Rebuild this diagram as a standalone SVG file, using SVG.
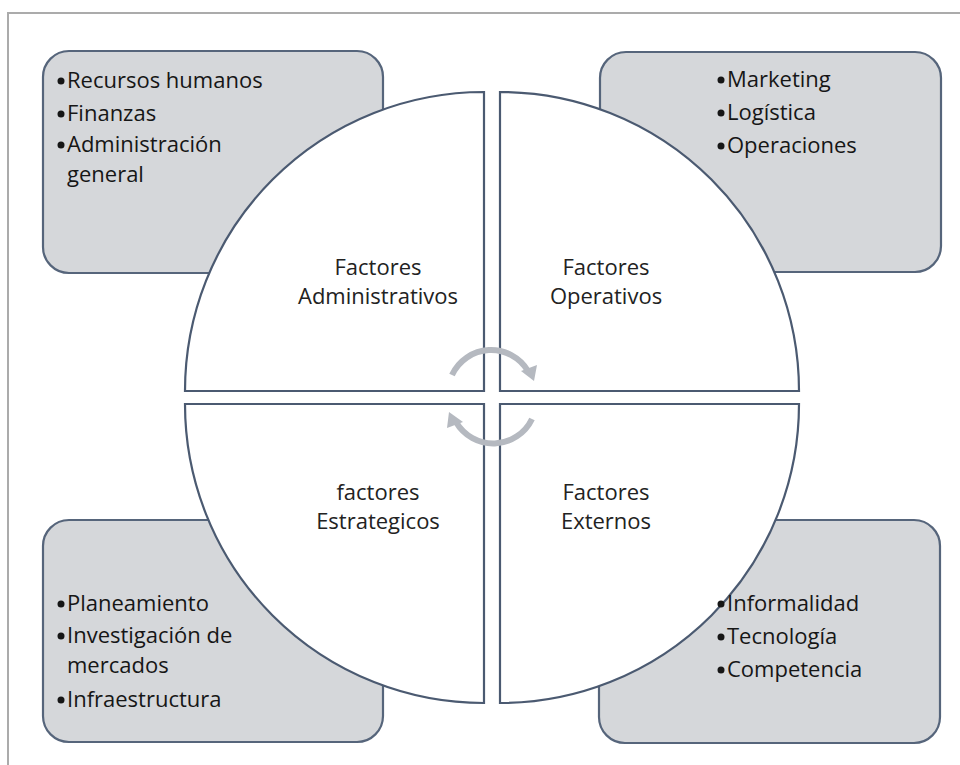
<svg xmlns="http://www.w3.org/2000/svg" width="960" height="765" viewBox="0 0 960 765">
<defs>
<style>
.frame{stroke:#ababab;stroke-width:2;fill:none}
.box{fill:#d5d7da;stroke:#56657b;stroke-width:2.2}
.quad{fill:#ffffff;stroke:#4b5a71;stroke-width:2.2}
.lbl{font-family:"Open Sans","Liberation Sans",sans-serif;font-size:22px;fill:#222222;text-anchor:middle}
.item{font-family:"Open Sans","Liberation Sans",sans-serif;font-size:22px;fill:#161616}
.dot{fill:#161616}
.arc{fill:none;stroke:#b5b9c0;stroke-width:6}
.head{fill:#b5b9c0}
</style>
</defs>
<rect width="960" height="765" fill="#ffffff"/>
<path class="frame" d="M8 765 L8 13 L960 13"/>

<g id="box-admin"><rect class="box" x="43" y="51" width="340" height="222" rx="26"/></g>
<g id="box-oper"><rect class="box" x="600" y="52" width="341" height="220" rx="26"/></g>
<g id="box-estr"><rect class="box" x="43" y="520" width="340" height="222" rx="26"/></g>
<g id="box-ext"><rect class="box" x="599" y="520" width="341" height="223" rx="26"/></g>

<g id="q-admin">
<path class="quad" d="M484 391 L185 391 A299 299 0 0 1 484 92 Z"/>
<text class="lbl" x="378" y="275">Factores</text>
<text class="lbl" x="378" y="304">Administrativos</text>
</g>
<g id="q-oper">
<path class="quad" d="M500 391 L500 92 A299 299 0 0 1 799 391 Z"/>
<text class="lbl" x="606" y="275">Factores</text>
<text class="lbl" x="606" y="304">Operativos</text>
</g>
<g id="q-estr">
<path class="quad" d="M484 404 L484 703 A299 299 0 0 1 185 404 Z"/>
<text class="lbl" x="378" y="500">factores</text>
<text class="lbl" x="378" y="529">Estrategicos</text>
</g>
<g id="q-ext">
<path class="quad" d="M500 404 L799 404 A299 299 0 0 1 500 703 Z"/>
<text class="lbl" x="606" y="500">Factores</text>
<text class="lbl" x="606" y="529">Externos</text>
</g>

<g id="connectors">
<path class="arc" d="M452 375 A43 43 0 0 1 528 371"/>
<path class="head" d="M521 371 L537 365 L534 381 Z"/>
<path class="arc" d="M532 419 A43 43 0 0 1 456 422"/>
<path class="head" d="M463 422 L447 428 L449 412 Z"/>
</g>

<g id="items-admin">
<circle class="dot" cx="61" cy="81" r="3.5"/><text class="item" x="67" y="88">Recursos humanos</text>
<circle class="dot" cx="61" cy="114" r="3.5"/><text class="item" x="67" y="121">Finanzas</text>
<circle class="dot" cx="61" cy="145" r="3.5"/><text class="item" x="67" y="152">Administración</text>
<text class="item" x="67" y="182">general</text>
</g>
<g id="items-oper">
<circle class="dot" cx="721" cy="80" r="3.5"/><text class="item" x="727" y="87">Marketing</text>
<circle class="dot" cx="721" cy="113" r="3.5"/><text class="item" x="727" y="120">Logística</text>
<circle class="dot" cx="721" cy="146" r="3.5"/><text class="item" x="727" y="153">Operaciones</text>
</g>
<g id="items-estr">
<circle class="dot" cx="61" cy="604" r="3.5"/><text class="item" x="67" y="611">Planeamiento</text>
<circle class="dot" cx="61" cy="636" r="3.5"/><text class="item" x="67" y="643">Investigación de</text>
<text class="item" x="67" y="673">mercados</text>
<circle class="dot" cx="61" cy="700" r="3.5"/><text class="item" x="67" y="707">Infraestructura</text>
</g>
<g id="items-ext">
<circle class="dot" cx="721" cy="604" r="3.5"/><text class="item" x="727" y="611">Informalidad</text>
<circle class="dot" cx="721" cy="637" r="3.5"/><text class="item" x="727" y="644">Tecnología</text>
<circle class="dot" cx="721" cy="670" r="3.5"/><text class="item" x="727" y="677">Competencia</text>
</g>
</svg>
